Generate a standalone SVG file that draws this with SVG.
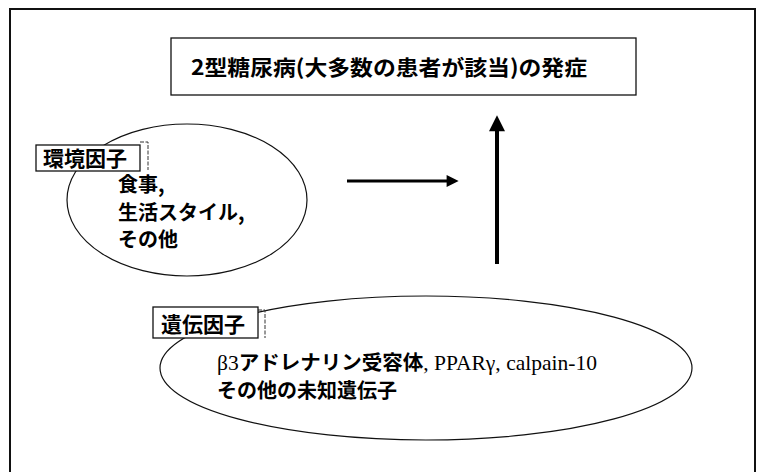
<svg xmlns="http://www.w3.org/2000/svg" width="766" height="472" viewBox="0 0 766 472">
<defs>
<marker id="ah" viewBox="0 0 10 10" refX="2" refY="5" markerWidth="4.4" markerHeight="4" orient="auto" markerUnits="strokeWidth">
<path d="M0,0 L10,5 L0,10 z" fill="#000"/>
</marker>
</defs>
<style>
.frame{fill:none;stroke:#111;stroke-width:2}
.box{fill:#fff;stroke:#111;stroke-width:1.3}
.shadow{fill:none;stroke:#333;stroke-width:1;stroke-dasharray:4 1.5}
.ell{fill:none;stroke:#111;stroke-width:1.2}
.jp{font-family:"Noto Sans CJK JP","Noto Sans",sans-serif;font-weight:700;fill:#000}
.lat{font-family:"Liberation Serif",serif;font-weight:400}
.arrow{stroke:#000;fill:none;marker-end:url(#ah)}
</style>
<rect class="frame" x="10" y="9" width="745" height="480"/>
<g id="title">
<rect class="box" x="171" y="38" width="465" height="57"/>
<text class="jp" x="191" y="75" font-size="21" textLength="396" lengthAdjust="spacingAndGlyphs">2型糖尿病(大多数の患者が該当)の発症</text>
</g>
<g id="env">
<ellipse class="ell" cx="187" cy="200" rx="120" ry="76"/>
<polyline class="shadow" points="140,142 148,142 148,170"/>
<rect class="box" x="36" y="145" width="104" height="26"/>
<text class="jp" x="43" y="166" font-size="21">環境因子</text>
<text class="jp" font-size="20"><tspan x="118" y="192">食事,</tspan><tspan x="118" y="220">生活スタイル,</tspan><tspan x="118" y="247">その他</tspan></text>
</g>
<g id="gene">
<ellipse class="ell" cx="426" cy="368" rx="266" ry="72"/>
<polyline class="shadow" points="258,310 265,310 265,338"/>
<rect class="box" x="153" y="307" width="105" height="31"/>
<text class="jp" x="161" y="332" font-size="21">遺伝因子</text>
<text class="jp" font-size="20" x="217" y="370" textLength="380" lengthAdjust="spacingAndGlyphs"><tspan class="lat" font-size="21">β3</tspan>アドレナリン受容体<tspan class="lat" font-size="21">, PPARγ, calpain-10</tspan></text>
<text class="jp" font-size="20" x="217" y="398">その他の未知遺伝子</text>
</g>
<g id="connectors">
<line class="arrow" x1="347" y1="181" x2="449" y2="181" stroke-width="3"/>
<line class="arrow" x1="497" y1="264" x2="497" y2="128" stroke-width="4"/>
</g>
</svg>
